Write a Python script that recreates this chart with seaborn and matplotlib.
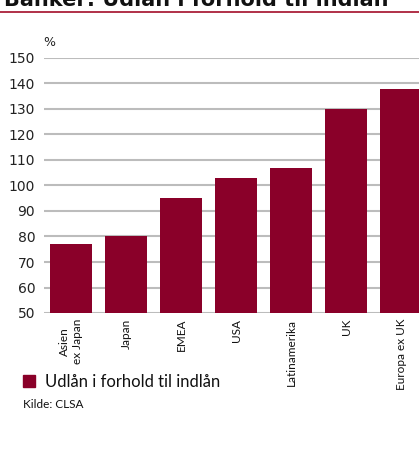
import matplotlib
matplotlib.use("Agg")
import matplotlib.pyplot as plt
import seaborn as sns
import pandas as pd
from matplotlib.patches import Rectangle

categories = ["Asien\nex Japan", "Japan", "EMEA", "USA", "Latinamerika", "UK", "Europa ex UK"]
values = [77, 80, 95, 103, 107, 130, 138]
yticks = [50, 60, 70, 80, 90, 100, 110, 120, 130, 140, 150]

title = "Banker: Udlån i forhold til indlån"
legend_label = "Udlån i forhold til indlån"
source = "Kilde: CLSA"

sns.set_theme(style="white")
plt.rcParams['font.family'] = ['DejaVu Sans']

bar_color = "#8a0029"
df = pd.DataFrame({"cat": categories, "val": values})

fig = plt.figure(figsize=(4.19, 4.54), dpi=100)
W, H = 419, 454
ax = fig.add_axes([43.5 / W, 1 - 313 / H, 385 / W, (313 - 58) / H])
sns.barplot(data=df, x="cat", y="val", color=bar_color, saturation=1,
            width=0.76, ax=ax, zorder=3, linewidth=0, edgecolor="none")
ax.set_ylim(50, 150)
ax.set_yticks(yticks)
ax.set_xlim(-0.5, len(categories) - 0.5)
ax.grid(axis="y", color="#bcbcbc", linewidth=1.5, zorder=0)
ax.set_axisbelow(True)
for s in ax.spines.values():
    s.set_visible(False)
ax.set_xlabel("")
ax.set_ylabel("")
ax.tick_params(axis="both", length=0)
ax.tick_params(axis="y", pad=6, labelsize=10, labelcolor="#222222")
ax.set_xticks(range(len(categories)))
ax.set_xticklabels(categories, rotation=90, fontsize=8.5, family=["Lato", "DejaVu Sans"],
                   va="top", ha="center", multialignment="center", color="#111111")
ax.tick_params(axis="x", pad=4)

fig.text(43 / W, 1 - 46 / H, "%", fontsize=9, color="#222222", va="baseline", ha="left")

fig.text(4 / W, 1 - 6 / H, title, fontsize=15, fontweight="bold", color="#111111",
         va="baseline", ha="left")
fig.add_artist(plt.Line2D([0, 1], [1 - 12 / H, 1 - 12 / H], color="#b03048",
                          linewidth=1.4, transform=fig.transFigure))

fig.add_artist(Rectangle((23 / W, 1 - 387 / H), 12 / W, 12 / H, color=bar_color,
                         transform=fig.transFigure))
fig.text(45 / W, 1 - 387 / H, legend_label, fontsize=12, family=["Lato", "DejaVu Sans"],
         color="#111111", va="baseline", ha="left")
fig.text(23 / W, 1 - 408 / H, source, fontsize=8.5, family=["Lato", "DejaVu Sans"],
         color="#111111", va="baseline", ha="left")

fig.savefig("out.png", dpi=100)
